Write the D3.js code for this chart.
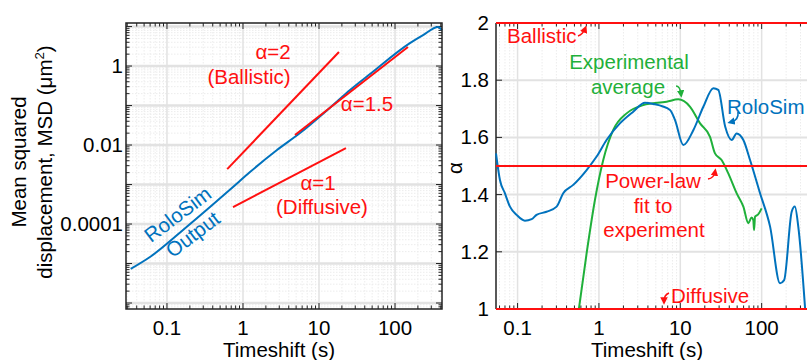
<!DOCTYPE html>
<html><head><meta charset="utf-8">
<script src="https://cdn.jsdelivr.net/npm/d3@7"></script>
<style>
html,body{margin:0;padding:0;background:#fff;}
svg{display:block;font-family:"Liberation Sans",Arial,sans-serif;}
</style></head>
<body><svg id="c" width="807" height="360"></svg>
<script>
// ---------- DATA ----------
// Left panel: MSD of RoloSim output vs timeshift
const msdT = [0.0333, 0.0597, 0.1625, 0.368, 0.739, 1.236, 2.80, 5.62, 15.3, 25.6, 46.9, 157, 234, 368, 415];
const msdV = [7.3e-6, 1.46e-5, 7.05e-5, 2.69e-4, 8.65e-4, 2.07e-3, 7.47e-3, 0.0201, 0.103, 0.247, 0.627, 3.82, 6.09, 9.71, 8.15];
// Reference power-law segments
const fitAlpha = [2, 1.5, 1];
const fitT0 = [0.62, 4.83, 0.739];
const fitT1 = [18.3, 148, 22.6];
const fitV0 = [0.00246, 0.0179, 0.000269];
const fitV1 = [2.26, 3.03, 0.0084];
const msdTicks = [1e-4, 1e-2, 1];
const msdTickLabels = ["0.0001", "0.01", "1"];
const timeTicks = [0.1, 1, 10, 100];
const timeTickLabels = ["0.1", "1", "10", "100"];

// Right panel: local exponent alpha
const simT = [0.0543,0.0607,0.0698,0.0806,0.0974,0.123,0.149,0.171,0.227,0.302,0.364,0.483,0.706,0.937,1.24,1.81,2.64,3.68,4.65,7.48,8.6,10.9,14.5,19.2,25.5,29.3,35.6,42.8,49.2,59.6,72,95.6,127,168,189,234,256,282,342];
const simA = [1.544,1.451,1.405,1.358,1.329,1.309,1.314,1.329,1.340,1.358,1.405,1.434,1.486,1.533,1.591,1.649,1.690,1.721,1.717,1.696,1.661,1.573,1.626,1.707,1.772,1.766,1.638,1.591,1.614,1.591,1.521,1.405,1.288,1.090,1.101,1.340,1.358,1.288,1.002];
const expT = [0.567,0.706,0.893,1.13,1.50,2.19,3.51,6.8,9.45,13.2,17.5,23.2,26.7,32.2,38.9,49.2,59.6,68.6,75,79,80.6,83,90,100];
const expA = [1.0,1.195,1.381,1.521,1.626,1.684,1.713,1.725,1.733,1.707,1.649,1.602,1.544,1.521,1.474,1.405,1.358,1.300,1.320,1.311,1.276,1.323,1.330,1.352];
const refLevels = [2, 1.5, 1];
const alphaTicks = [1, 1.2, 1.4, 1.6, 1.8, 2];
const alphaTickLabels = ["1", "1.2", "1.4", "1.6", "1.8", "2"];

// ---------- STYLE ----------
const RED = "#ff1010", BLUE = "#0072bd", GREEN = "#1fb03a";
const GRID = "#e2e2e2", MINOR = "#ececec";

const svg = d3.select("#c");
svg.append("rect").attr("width",807).attr("height",360).attr("fill","#fff");

// calibrate font size so "Timeshift (s)" is ~112px wide as in the reference
const probe = svg.append("text").attr("font-size",20).text("Timeshift (s)");
const pw = probe.node().getComputedTextLength();
probe.remove();
const FS = Math.max(18, Math.min(24, 20 * 112 / (pw || 110)));

svg.append("defs").selectAll("marker").data([["ar",RED],["ag",GREEN],["ab",BLUE]]).join("marker")
  .attr("id",d=>d[0]).attr("viewBox","0 0 10 10").attr("refX",5).attr("refY",5)
  .attr("markerWidth",5).attr("markerHeight",5).attr("orient","auto")
  .append("path").attr("d","M0,0 L10,5 L0,10 z").attr("fill",d=>d[1]);

function minorsLog(lo, hi){
  const out=[];
  for(let e=Math.floor(Math.log10(lo)); e<=Math.ceil(Math.log10(hi)); e++){
    for(let m=1;m<10;m++){const v=m*Math.pow(10,e); if(v>=lo&&v<=hi) out.push({v, major:m===1});}
  }
  return out;
}

// ================= LEFT PANEL =================
const L = {x0:126, x1:442, y0:23, y1:309};
const xL = d3.scaleLog().domain([0.0289, 415]).range([L.x0, L.x1]);
const yL = d3.scaleLog().domain([7.05e-7, 12.3]).range([L.y1, L.y0]);
const gL = svg.append("g");

const xm = minorsLog(0.0289, 415), ym = minorsLog(7.05e-7, 12.3);
gL.selectAll(".vgm").data(xm.filter(d=>!d.major)).join("line")
  .attr("x1",d=>xL(d.v)).attr("x2",d=>xL(d.v)).attr("y1",L.y0).attr("y2",L.y1)
  .attr("stroke",MINOR).attr("stroke-width",1).attr("stroke-dasharray","1.5,1.5");
gL.selectAll(".hgm").data(ym.filter(d=>!d.major)).join("line")
  .attr("y1",d=>yL(d.v)).attr("y2",d=>yL(d.v)).attr("x1",L.x0).attr("x2",L.x1)
  .attr("stroke",MINOR).attr("stroke-width",1).attr("stroke-dasharray","1.5,1.5");
gL.selectAll(".vg").data(xm.filter(d=>d.major)).join("line")
  .attr("x1",d=>xL(d.v)).attr("x2",d=>xL(d.v)).attr("y1",L.y0).attr("y2",L.y1)
  .attr("stroke",GRID).attr("stroke-width",1.5);
gL.selectAll(".hg").data(ym.filter(d=>d.major)).join("line")
  .attr("y1",d=>yL(d.v)).attr("y2",d=>yL(d.v)).attr("x1",L.x0).attr("x2",L.x1)
  .attr("stroke",GRID).attr("stroke-width",2.5);

// ticks (inward, all four sides)
const tickG = gL.append("g").attr("stroke","#222");
xm.forEach(d=>{const x=xL(d.v), len=d.major?6:3.5;
  tickG.append("line").attr("x1",x).attr("x2",x).attr("y1",L.y1).attr("y2",L.y1-len);
  tickG.append("line").attr("x1",x).attr("x2",x).attr("y1",L.y0).attr("y2",L.y0+len);});
ym.forEach(d=>{const y=yL(d.v), len=d.major?6:3.5;
  tickG.append("line").attr("y1",y).attr("y2",y).attr("x1",L.x0).attr("x2",L.x0+len);
  tickG.append("line").attr("y1",y).attr("y2",y).attr("x1",L.x1).attr("x2",L.x1-len);});

// data
const lineL = d3.line().x(d=>xL(d[0])).y(d=>yL(d[1])).curve(d3.curveMonotoneX);
gL.append("path").datum(d3.zip(msdT, msdV)).attr("d",lineL)
  .attr("fill","none").attr("stroke",BLUE).attr("stroke-width",2);
fitAlpha.forEach((a,i)=>{
  gL.append("line").attr("x1",xL(fitT0[i])).attr("y1",yL(fitV0[i]))
    .attr("x2",xL(fitT1[i])).attr("y2",yL(fitV1[i]))
    .attr("stroke",RED).attr("stroke-width",2);
});

gL.append("rect").attr("x",L.x0).attr("y",L.y0).attr("width",L.x1-L.x0).attr("height",L.y1-L.y0)
  .attr("fill","none").attr("stroke","#222").attr("stroke-width",1.5);

// tick labels
gL.selectAll(".xl").data(timeTicks).join("text")
  .attr("x",d=>xL(d)).attr("y",335).attr("text-anchor","middle").attr("font-size",FS)
  .text((d,i)=>timeTickLabels[i]);
gL.selectAll(".yl").data(msdTicks).join("text")
  .attr("x",123).attr("y",d=>yL(d)+7).attr("text-anchor","end").attr("font-size",FS)
  .text((d,i)=>msdTickLabels[i]);
gL.append("text").attr("x",279).attr("y",357).attr("text-anchor","middle").attr("font-size",FS).text("Timeshift (s)");
const yt = gL.append("text").attr("transform","translate(26,162) rotate(-90)").attr("text-anchor","middle").attr("font-size",FS);
yt.append("tspan").attr("x",0).attr("y",0).text("Mean squared");
const t2 = yt.append("tspan").attr("x",0).attr("y",26).text("displacement, MSD (μm");
t2.append("tspan").attr("font-size",FS*0.65).attr("dy",-8).text("2");
yt.append("tspan").attr("dy",8).text(")");

// annotations
const ann = (g,x,y,txt,col,anchor="middle")=>g.append("text").attr("x",x).attr("y",y).attr("text-anchor",anchor)
  .attr("font-size",FS).attr("fill",col).text(txt);
ann(gL,273,59,"α=2",RED);
ann(gL,249,84,"(Ballistic)",RED);
ann(gL,367,111,"α=1.5",RED);
ann(gL,318,190,"α=1",RED);
ann(gL,322,214,"(Diffusive)",RED);
gL.append("text").attr("transform","translate(182,220) rotate(-37)").attr("text-anchor","middle")
  .attr("font-size",FS).attr("fill",BLUE).text("RoloSim");
gL.append("text").attr("transform","translate(197,240) rotate(-37)").attr("text-anchor","middle")
  .attr("font-size",FS).attr("fill",BLUE).text("Output");

// ================= RIGHT PANEL =================
const R = {x0:496, x1:814, y0:23, y1:309};
const xR = d3.scaleLog().domain([0.0543, 440]).range([R.x0, R.x1]);
const yR = d3.scaleLinear().domain([1, 2]).range([R.y1, R.y0]);
const gR = svg.append("g");
const xmR = minorsLog(0.0543, 440);
gR.selectAll(".vgm").data(xmR.filter(d=>!d.major)).join("line")
  .attr("x1",d=>xR(d.v)).attr("x2",d=>xR(d.v)).attr("y1",R.y0).attr("y2",R.y1)
  .attr("stroke",MINOR).attr("stroke-width",1).attr("stroke-dasharray","1.5,1.5");
gR.selectAll(".vg").data(xmR.filter(d=>d.major)).join("line")
  .attr("x1",d=>xR(d.v)).attr("x2",d=>xR(d.v)).attr("y1",R.y0).attr("y2",R.y1)
  .attr("stroke",GRID).attr("stroke-width",1.5);
gR.selectAll(".hg").data(alphaTicks).join("line")
  .attr("y1",d=>yR(d)).attr("y2",d=>yR(d)).attr("x1",R.x0).attr("x2",R.x1)
  .attr("stroke",GRID).attr("stroke-width",2);
const tR = gR.append("g").attr("stroke","#222");
xmR.forEach(d=>{const x=xR(d.v), len=d.major?6:3.5;
  tR.append("line").attr("x1",x).attr("x2",x).attr("y1",R.y1).attr("y2",R.y1-len);
  tR.append("line").attr("x1",x).attr("x2",x).attr("y1",R.y0).attr("y2",R.y0+len);});
alphaTicks.forEach(v=>{tR.append("line").attr("x1",R.x0).attr("x2",R.x0+6).attr("y1",yR(v)).attr("y2",yR(v));});
gR.append("line").attr("x1",R.x0).attr("x2",R.x0).attr("y1",R.y0).attr("y2",R.y1).attr("stroke","#222").attr("stroke-width",1.5);

const lineR = d3.line().x(d=>xR(d[0])).y(d=>yR(d[1])).curve(d3.curveMonotoneX);
gR.append("path").datum(d3.zip(expT, expA)).attr("d",lineR).attr("fill","none").attr("stroke",GREEN).attr("stroke-width",2);
gR.append("path").datum(d3.zip(simT, simA)).attr("d",lineR).attr("fill","none").attr("stroke",BLUE).attr("stroke-width",2);
gR.selectAll(".ref").data(refLevels).join("line")
  .attr("x1",R.x0).attr("x2",R.x1).attr("y1",d=>yR(d)).attr("y2",d=>yR(d))
  .attr("stroke",RED).attr("stroke-width",2);

gR.selectAll(".xl").data(timeTicks).join("text")
  .attr("x",d=>xR(d)).attr("y",335).attr("text-anchor","middle").attr("font-size",FS)
  .text((d,i)=>timeTickLabels[i]);
gR.selectAll(".yl").data(alphaTicks).join("text")
  .attr("x",489).attr("y",d=>yR(d)+7).attr("text-anchor","end").attr("font-size",FS)
  .text((d,i)=>alphaTickLabels[i]);
gR.append("text").attr("x",647).attr("y",357).attr("text-anchor","middle").attr("font-size",FS).text("Timeshift (s)");
gR.append("text").attr("transform","translate(462,168) rotate(-90)").attr("text-anchor","middle").attr("font-size",FS).text("α");

ann(gR,507,43,"Ballistic",RED,"start");
ann(gR,629,69,"Experimental",GREEN);
ann(gR,628,94,"average",GREEN);
ann(gR,727,114,"RoloSim",BLUE,"start");
ann(gR,653,188,"Power-law",RED);
ann(gR,653,213,"fit to",RED);
ann(gR,654,237,"experiment",RED);
ann(gR,671,303,"Diffusive",RED,"start");

const arrow=(g,d,col,m)=>g.append("path").attr("d",d).attr("fill","none").attr("stroke",col).attr("stroke-width",1.5).attr("marker-end",`url(#${m})`);
arrow(gR,"M578,36 Q583,34 585,29",RED,"ar");
arrow(gR,"M676,86 Q680,86 681,94",GREEN,"ag");
arrow(gR,"M738,112 Q739,120 731,122",BLUE,"ab");
arrow(gR,"M708,179 Q714,178 715,172",RED,"ar");
arrow(gR,"M669,293 Q664,295 664,301",RED,"ar");
</script></body></html>
